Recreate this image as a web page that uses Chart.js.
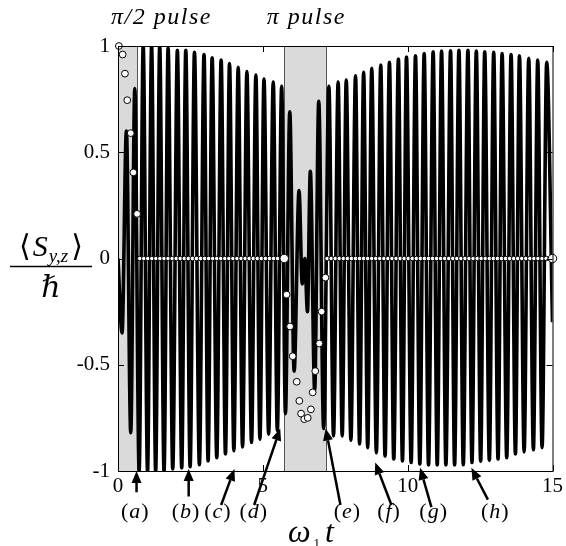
<!DOCTYPE html>
<html>
<head>
<meta charset="utf-8">
<script src="https://cdn.jsdelivr.net/npm/chart.js@4"></script>
<style>
  html, body { margin: 0; padding: 0; background: #fff; }
</style>
</head>
<body>
<canvas id="SpinChart" width="566" height="546"></canvas>
<script>
// <S_y>/hbar : peaks and troughs
const syTime = [
  0, 0.14, 0.29, 0.44, 0.58, 0.73, 0.87, 1.02, 1.16, 1.30, 1.44, 1.59, 1.73, 1.89,
  2.05, 2.20, 2.34, 2.49, 2.64, 2.81, 2.97, 3.11, 3.25, 3.41, 3.56, 3.71, 3.85, 4.00,
  4.15, 4.30, 4.45, 4.61, 4.76, 4.90, 5.04, 5.20, 5.36, 5.50, 5.65, 5.78, 5.93, 6.08,
  6.25, 6.36, 6.45, 6.54, 6.64, 6.79, 6.93, 7.10, 7.28, 7.44, 7.60, 7.74, 7.88, 8.04,
  8.20, 8.34, 8.48, 8.62, 8.76, 8.92, 9.07, 9.22, 9.37, 9.52, 9.68, 9.82, 9.96, 10.12,
  10.27, 10.42, 10.57, 10.72, 10.88, 11.02, 11.17, 11.32, 11.48, 11.62, 11.77, 11.92,
  12.08, 12.22, 12.37, 12.52, 12.66, 12.82, 12.97, 13.12, 13.26, 13.42, 13.57, 13.72,
  13.86, 14.02, 14.18, 14.34, 14.49, 14.64, 14.80, 15.00
];
const syValue = [
  0, -0.35, 0.60, -0.82, 0.80, -1.0, 1.0, -1.0, 1.0, -1.0, 1.0, -1.0, 0.99, -0.99,
  0.98, -0.986, 0.98, -0.98, 0.97, -0.97, 0.96, -0.953, 0.945, -0.937, 0.934, -0.92, 0.918, -0.905,
  0.90, -0.887, 0.88, -0.866, 0.863, -0.85, 0.844, -0.827, 0.83, -0.81, 0.81, -0.73, 0.69, -0.53,
  0.32, -0.12, 0.0, -0.25, 0.41, -0.62, 0.74, -0.80, 0.81, -0.835, 0.83, -0.835, 0.84, -0.855,
  0.86, -0.873, 0.876, -0.89, 0.895, -0.914, 0.91, -0.93, 0.923, -0.945, 0.939, -0.953, 0.948, -0.96,
  0.954, -0.968, 0.964, -0.972, 0.973, -0.972, 0.976, -0.972, 0.978, -0.972, 0.98, -0.97,
  0.98, -0.96, 0.976, -0.955, 0.973, -0.95, 0.97, -0.945, 0.964, -0.937, 0.96, -0.92,
  0.954, -0.91, 0.942, -0.9, 0.934, -0.89, 0.923, -0.30
];

// <S_z>/hbar : open circles
const szTime = [
  0.03, 0.16, 0.24, 0.32, 0.44, 0.53, 0.66,
  0.75, 0.89, 1.03, 1.17, 1.31, 1.45, 1.59, 1.73, 1.87, 2.01, 2.15, 2.29, 2.43, 2.57,
  2.71, 2.85, 2.99, 3.13, 3.27, 3.41, 3.55, 3.69, 3.83, 3.97, 4.11, 4.25, 4.39, 4.53,
  4.67, 4.81, 4.95, 5.09, 5.23, 5.37, 5.51, 5.65, 5.74,
  5.82, 5.94, 6.03, 6.17, 6.26, 6.32, 6.43, 6.55, 6.66, 6.72, 6.81, 6.95, 7.03, 7.16,
  7.22, 7.36, 7.50, 7.64, 7.78, 7.92, 8.06, 8.20, 8.34, 8.48, 8.62, 8.76, 8.90, 9.04,
  9.18, 9.32, 9.46, 9.60, 9.74, 9.88, 10.02, 10.16, 10.30, 10.44, 10.58, 10.72, 10.86,
  11.00, 11.14, 11.28, 11.42, 11.56, 11.70, 11.84, 11.98, 12.12, 12.26, 12.40, 12.54,
  12.68, 12.82, 12.96, 13.10, 13.24, 13.38, 13.52, 13.66, 13.80, 13.94, 14.08, 14.22,
  14.36, 14.50, 14.64, 14.78, 14.92, 15.00
];
const szValue = [
  1.0, 0.96, 0.87, 0.745, 0.59, 0.405, 0.21,
  0, 0, 0, 0, 0, 0, 0, 0, 0, 0, 0, 0, 0, 0,
  0, 0, 0, 0, 0, 0, 0, 0, 0, 0, 0, 0, 0, 0,
  0, 0, 0, 0, 0, 0, 0, 0, 0,
  -0.17, -0.32, -0.46, -0.58, -0.67, -0.73, -0.756, -0.75, -0.71, -0.63, -0.53, -0.40, -0.25, -0.09,
  0, 0, 0, 0, 0, 0, 0, 0, 0, 0, 0, 0, 0, 0,
  0, 0, 0, 0, 0, 0, 0, 0, 0, 0, 0, 0, 0,
  0, 0, 0, 0, 0, 0, 0, 0, 0, 0, 0, 0,
  0, 0, 0, 0, 0, 0, 0, 0, 0, 0, 0, 0,
  0, 0, 0, 0, 0, 0
];

// pulse windows
const pulseStart = [0, 5.74];
const pulseEnd = [0.66, 7.18];
const pulseLabels = ['π/2 pulse', 'π pulse'];
const pulseLabelX = [1.5, 6.5];

// arrows (a)-(h)
const arrowLabels = ['(a)', '(b)', '(c)', '(d)', '(e)', '(f)', '(g)', '(h)'];
const arrowTipX = [0.64, 2.44, 4.02, 5.60, 7.17, 8.88, 10.43, 12.20];
const arrowTipY = [-1.0, -0.99, -0.99, -0.80, -0.80, -0.96, -0.985, -0.985];
const arrowTailX = [0.64, 2.44, 3.56, 4.70, 7.68, 9.44, 10.82, 12.77];
const arrowTailY = [-1.10, -1.12, -1.16, -1.16, -1.16, -1.16, -1.17, -1.135];
const arrowLabelX = [0.58, 2.33, 3.43, 4.67, 7.90, 9.34, 10.88, 13.01];
const arrowLabelY = -1.195;

const xTicks = [0, 5, 10, 15];
const yTicks = [-1, -0.5, 0, 0.5, 1];

const SERIF = "'Liberation Serif', 'DejaVu Serif', serif";

function drawArrow(ctx, x0, y0, x1, y1) {
    const ang = Math.atan2(y1 - y0, x1 - x0);
    const head = 12, half = 5;
    const bx = x1 - head * Math.cos(ang), by = y1 - head * Math.sin(ang);
    ctx.beginPath();
    ctx.moveTo(x0, y0);
    ctx.lineTo(bx, by);
    ctx.stroke();
    ctx.beginPath();
    ctx.moveTo(x1, y1);
    ctx.lineTo(bx + half * Math.sin(ang), by - half * Math.cos(ang));
    ctx.lineTo(bx - half * Math.sin(ang), by + half * Math.cos(ang));
    ctx.closePath();
    ctx.fill();
}

// draws "(a)" with upright brackets and an italic letter, centred on x
function drawTag(ctx, t, x, y) {
    const up = '22px ' + SERIF, it = 'italic 22px ' + SERIF;
    const inner = t.slice(1, -1);
    ctx.font = up; const wp = ctx.measureText('(').width;
    ctx.font = it; const wi = ctx.measureText(inner).width;
    let cx = x - (2 * wp + wi + 2) / 2;
    ctx.textAlign = 'left';
    ctx.font = up; ctx.fillText('(', cx, y); cx += wp + 1;
    ctx.font = it; ctx.fillText(inner, cx, y); cx += wi + 1;
    ctx.font = up; ctx.fillText(')', cx, y);
}

const decorations = {
    id: 'decorations',
    beforeDatasetsDraw(chart) {
        const ctx = chart.ctx, a = chart.chartArea, xs = chart.scales.x;
        ctx.save();
        for (let i = 0; i < pulseStart.length; i++) {
            const x0 = xs.getPixelForValue(pulseStart[i]);
            const x1 = xs.getPixelForValue(pulseEnd[i]);
            ctx.fillStyle = '#dadada';
            ctx.fillRect(x0, a.top, x1 - x0, a.bottom - a.top);
            ctx.strokeStyle = '#555';
            ctx.lineWidth = 1;
            ctx.strokeRect(Math.round(x0) + 0.5, a.top + 0.5, Math.round(x1 - x0), a.bottom - a.top);
        }
        ctx.restore();
    },
    afterDatasetsDraw(chart) {
        const ctx = chart.ctx, a = chart.chartArea;
        const xs = chart.scales.x, ys = chart.scales.y;
        ctx.save();

        // frame + inward ticks
        ctx.strokeStyle = '#000';
        ctx.lineWidth = 1;
        ctx.strokeRect(a.left + 0.5, a.top + 0.5, a.right - a.left, a.bottom - a.top);
        ctx.beginPath();
        xTicks.forEach(v => {
            const x = Math.round(xs.getPixelForValue(v)) + 0.5;
            ctx.moveTo(x, a.top); ctx.lineTo(x, a.top + 6);
            ctx.moveTo(x, a.bottom); ctx.lineTo(x, a.bottom - 6);
        });
        yTicks.forEach(v => {
            const y = Math.round(ys.getPixelForValue(v)) + 0.5;
            ctx.moveTo(a.left, y); ctx.lineTo(a.left + 6, y);
            ctx.moveTo(a.right, y); ctx.lineTo(a.right - 6, y);
        });
        ctx.stroke();

        // pulse labels
        ctx.fillStyle = '#000';
        ctx.font = 'italic 24px ' + SERIF;
        ctx.letterSpacing = '1.5px';
        ctx.textAlign = 'center';
        ctx.textBaseline = 'alphabetic';
        pulseLabels.forEach((t, i) => {
            ctx.fillText(t, xs.getPixelForValue(pulseLabelX[i]), 24);
        });
        ctx.letterSpacing = '0px';

        // arrows and their letters
        ctx.lineWidth = 2.5;
        ctx.strokeStyle = '#000';
        arrowLabels.forEach((t, i) => {
            drawArrow(ctx,
                xs.getPixelForValue(arrowTailX[i]), ys.getPixelForValue(arrowTailY[i]),
                xs.getPixelForValue(arrowTipX[i]), ys.getPixelForValue(arrowTipY[i]));
        });
        ctx.textBaseline = 'middle';
        arrowLabels.forEach((t, i) => {
            drawTag(ctx, t, xs.getPixelForValue(arrowLabelX[i]), ys.getPixelForValue(arrowLabelY));
        });

        // x axis title: omega_1 t
        ctx.textBaseline = 'alphabetic';
        ctx.textAlign = 'left';
        const big = 'italic 32px ' + SERIF, small = '13px ' + SERIF;
        ctx.font = big; const wW = ctx.measureText('ω').width;
        ctx.font = small; const w1 = ctx.measureText('1').width;
        ctx.font = big; const wt = ctx.measureText('t').width;
        let x = 311 - (wW + w1 + wt + 8) / 2;
        const base = 542;
        ctx.font = big; ctx.fillText('ω', x, base); x += wW + 3;
        ctx.font = small; ctx.fillText('1', x, base + 5); x += w1 + 5;
        ctx.font = big; ctx.fillText('t', x, base);

        // y axis title: <S_{y,z}> / hbar
        const cx = 51;
        const f1 = '30px ' + SERIF, f2 = 'italic 30px ' + SERIF, f3 = 'italic 19px ' + SERIF;
        ctx.font = f1; const wl = ctx.measureText('⟨').width;
        ctx.font = f2; const wS = ctx.measureText('S').width;
        ctx.font = f3; const wyz = ctx.measureText('y,z').width;
        ctx.font = f1; const wr = ctx.measureText('⟩').width;
        let nx = cx - (wl + wS + wyz + wr + 6) / 2;
        const nb = 256;
        ctx.font = f1; ctx.fillText('⟨', nx, nb); nx += wl + 2;
        ctx.font = f2; ctx.fillText('S', nx, nb); nx += wS + 1;
        ctx.font = f3; ctx.fillText('y,z', nx, nb + 6); nx += wyz + 3;
        ctx.font = f1; ctx.fillText('⟩', nx, nb);
        ctx.lineWidth = 1.3;
        ctx.beginPath();
        ctx.moveTo(10, 266.5); ctx.lineTo(92, 266.5);
        ctx.stroke();
        ctx.font = f2;
        ctx.textAlign = 'center';
        ctx.fillText('ℏ', cx, 297);

        ctx.restore();
    }
};

const ctx = document.getElementById('SpinChart').getContext('2d');
const SpinChart = new Chart(ctx, {
    type: 'scatter',
    data: {
        datasets: [
            {
                label: 'Sz',
                data: szTime.map((t, i) => ({ x: t, y: szValue[i] })),
                showLine: false,
                pointBackgroundColor: '#fff',
                pointBorderColor: '#000',
                pointBorderWidth: 1,
                pointRadius: c => {
                    const v = szValue[c.dataIndex];
                    const next = szValue[c.dataIndex + 1];
                    if (v !== 0) return 3.4;
                    if (next === undefined || next !== 0) return 4.2;
                    return 2.3;
                },
                clip: false,
                order: 0
            },
            {
                label: 'Sy',
                data: syTime.map((t, i) => ({ x: t, y: syValue[i] })),
                showLine: true,
                borderColor: '#000',
                borderWidth: 3.6,
                pointRadius: 0,
                cubicInterpolationMode: 'monotone',
                order: 1
            }
        ]
    },
    options: {
        responsive: false,
        animation: false,
        layout: { padding: { top: 46, right: 11, left: 0, bottom: 0 } },
        plugins: { legend: { display: false }, tooltip: { enabled: false } },
        scales: {
            x: {
                type: 'linear',
                min: 0, max: 15,
                afterFit: s => { s.height = 75; },
                grid: { display: false, drawTicks: false },
                border: { display: false },
                ticks: {
                    stepSize: 5,
                    padding: 3,
                    color: '#000',
                    font: { family: SERIF, size: 21 },
                    callback: v => String(v)
                }
            },
            y: {
                type: 'linear',
                min: -1, max: 1,
                afterFit: s => { s.width = 118; },
                grid: { display: false, drawTicks: false },
                border: { display: false },
                ticks: {
                    stepSize: 0.5,
                    padding: 8,
                    color: '#000',
                    font: { family: SERIF, size: 21 },
                    callback: v => String(v)
                }
            }
        }
    },
    plugins: [decorations]
});
</script>
</body>
</html>
